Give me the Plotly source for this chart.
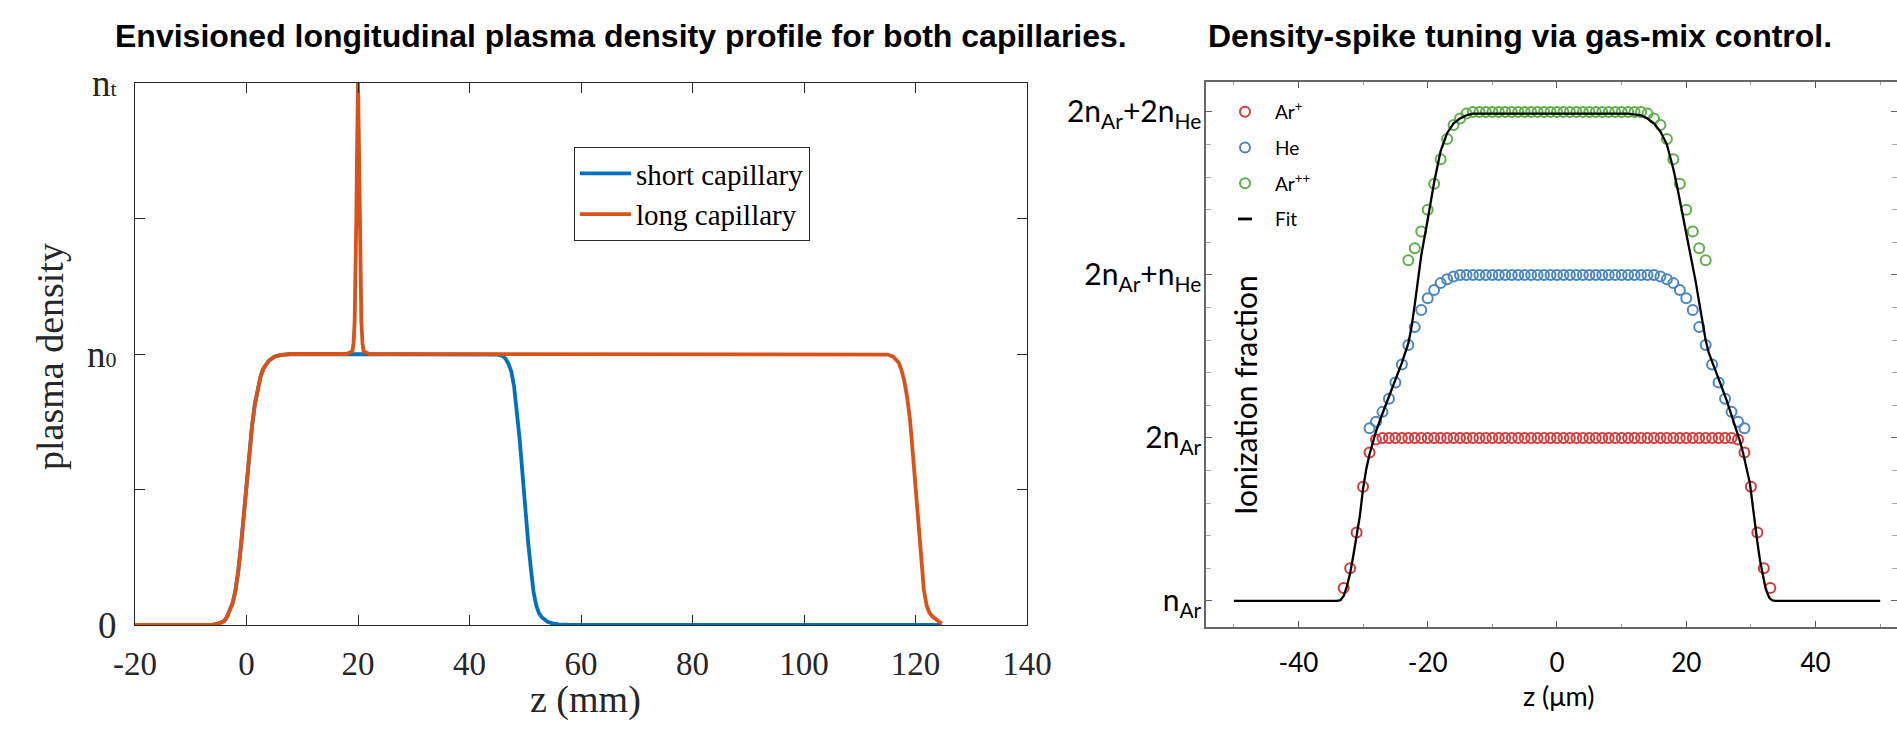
import plotly.graph_objects as go

# ---------------- Left panel: plasma density profiles ----------------
SHORT_Z = [-20, -8, -6, -5, -4, -3.5, -3, -2.5, -2, -1.5, -1, -0.5, 0, 0.5, 1, 1.5, 2, 2.5, 3, 3.5, 4, 5, 6, 8,
           44, 45, 46, 46.5, 47, 47.5, 48, 48.5, 49, 49.5, 50, 50.5, 51, 51.5, 52, 52.5, 53, 54, 55, 56, 58, 124.7]
SHORT_N = [0, 0, 0.001, 0.005, 0.015, 0.03, 0.052, 0.08, 0.125, 0.195, 0.29, 0.40, 0.51, 0.635, 0.735, 0.815, 0.875,
           0.915, 0.945, 0.962, 0.975, 0.99, 0.996, 1.0,
           1.0, 0.998, 0.992, 0.982, 0.963, 0.935, 0.88, 0.79, 0.685, 0.56, 0.41, 0.31, 0.21, 0.12, 0.07, 0.042,
           0.028, 0.012, 0.005, 0.002, 0.0, 0.0]

LONG_Z = [-20, -8, -6, -5, -4, -3.5, -3, -2.5, -2, -1.5, -1, -0.5, 0, 0.5, 1, 1.5, 2, 2.5, 3, 3.5, 4, 5, 6, 8,
          18, 19.0, 19.2, 19.4, 19.55, 19.7, 19.8, 19.9, 20, 20.1, 20.2, 20.3, 20.45, 20.6, 20.8, 21.0, 22,
          114, 115, 116, 116.5, 117, 117.5, 118, 118.5, 119, 119.5, 120, 120.5, 121, 121.5, 122, 122.5, 123,
          123.5, 124, 124.7]
LONG_N = [0, 0, 0.001, 0.005, 0.015, 0.03, 0.052, 0.08, 0.125, 0.195, 0.29, 0.40, 0.51, 0.635, 0.735, 0.815, 0.875,
          0.915, 0.945, 0.962, 0.975, 0.99, 0.996, 1.0,
          1.0, 1.01, 1.04, 1.12, 1.25, 1.5, 1.7, 1.87, 2.0, 1.87, 1.7, 1.5, 1.25, 1.12, 1.04, 1.01, 1.0,
          1.0, 0.998, 0.99, 0.98, 0.968, 0.94, 0.9, 0.84, 0.76, 0.64, 0.51, 0.37, 0.23, 0.13, 0.072, 0.045,
          0.032, 0.023, 0.014, 0.005]

LEFT_X_TICKS = [-20, 0, 20, 40, 60, 80, 100, 120, 140]
LEFT_X_LABELS = ["-20", "0", "20", "40", "60", "80", "100", "120", "140"]
LEFT_Y_TICKS = [0, 0.5, 1, 1.5, 2]
LEFT_Y_LABELS = ["0", "", "n<span style='font-size:22px'>0</span>", "",
                 "n<span style='font-size:22px'>t</span>"]

# ---------------- Right panel: ionization profiles ----------------
AR1_Z = [-33, -32, -31, -30, -29, -28, -27, -26, -25, -24, -23, -22, -21, -20, -19, -18, -17, -16, -15, -14,
         -13, -12, -11, -10, -9, -8, -7, -6, -5, -4, -3, -2, -1, 0, 1, 2, 3, 4, 5, 6, 7, 8, 9, 10, 11, 12, 13,
         14, 15, 16, 17, 18, 19, 20, 21, 22, 23, 24, 25, 26, 27, 28, 29, 30, 31, 32, 33]
AR1_V = [1.08, 1.20, 1.42, 1.70, 1.91, 1.99,
         2.0, 2.0, 2.0, 2.0, 2.0, 2.0, 2.0, 2.0, 2.0, 2.0, 2.0, 2.0, 2.0, 2.0, 2.0, 2.0, 2.0, 2.0, 2.0, 2.0,
         2.0, 2.0, 2.0, 2.0, 2.0, 2.0, 2.0, 2.0, 2.0, 2.0, 2.0, 2.0, 2.0, 2.0, 2.0, 2.0, 2.0, 2.0, 2.0, 2.0,
         2.0, 2.0, 2.0, 2.0, 2.0, 2.0, 2.0, 2.0, 2.0, 2.0, 2.0, 2.0, 2.0, 2.0, 2.0,
         1.99, 1.91, 1.70, 1.42, 1.20, 1.08]

HE_Z = [-29, -28, -27, -26, -25, -24, -23, -22, -21, -20, -19, -18, -17, -16, -15, -14, -13, -12, -11, -10,
        -9, -8, -7, -6, -5, -4, -3, -2, -1, 0, 1, 2, 3, 4, 5, 6, 7, 8, 9, 10, 11, 12, 13, 14, 15, 16, 17, 18,
        19, 20, 21, 22, 23, 24, 25, 26, 27, 28, 29]
HE_V = [2.06, 2.10, 2.16, 2.24, 2.34, 2.45, 2.57, 2.68, 2.785, 2.857, 2.908, 2.95, 2.974, 2.99,
        3.0, 3.0, 3.0, 3.0, 3.0, 3.0, 3.0, 3.0, 3.0, 3.0, 3.0, 3.0, 3.0, 3.0, 3.0, 3.0, 3.0, 3.0, 3.0, 3.0,
        3.0, 3.0, 3.0, 3.0, 3.0, 3.0, 3.0, 3.0, 3.0, 3.0, 3.0,
        2.99, 2.974, 2.95, 2.908, 2.857, 2.785, 2.68, 2.57, 2.45, 2.34, 2.24, 2.16, 2.10, 2.06]

AR2_Z = [-23, -22, -21, -20, -19, -18, -17, -16, -15, -14, -13, -12, -11, -10, -9, -8, -7, -6, -5, -4, -3,
         -2, -1, 0, 1, 2, 3, 4, 5, 6, 7, 8, 9, 10, 11, 12, 13, 14, 15, 16, 17, 18, 19, 20, 21, 22, 23]
AR2_V = [3.09, 3.164, 3.266, 3.40, 3.56, 3.71, 3.834, 3.92, 3.96, 3.99,
         4.0, 4.0, 4.0, 4.0, 4.0, 4.0, 4.0, 4.0, 4.0, 4.0, 4.0, 4.0, 4.0, 4.0, 4.0, 4.0, 4.0, 4.0, 4.0, 4.0,
         4.0, 4.0, 4.0, 4.0, 4.0, 4.0, 4.0,
         3.99, 3.96, 3.92, 3.834, 3.71, 3.56, 3.40, 3.266, 3.164, 3.09]

FIT_Z = [-50, -34, -33.5, -33, -32.5, -32, -31.5, -31, -30.5, -30, -29.5, -29, -28.5, -28, -27, -26, -25, -24,
         -23, -22.5, -22, -21.5, -21, -20, -19, -18, -17, -16, -15, -14, -13, -11, 11, 13, 14, 15, 16, 17,
         17.5, 18, 18.5, 19, 19.5, 20, 20.5, 21, 21.5, 22, 22.5, 23, 23.5, 24, 24.7, 25.5, 26.25, 27, 27.8,
         28.3, 28.8, 29.3, 29.85, 30.2, 30.6, 31, 31.4, 31.8, 32.2, 32.6, 32.9, 33.3, 33.7, 50]
FIT_V = [1.0, 1.0, 1.005, 1.03, 1.09, 1.17, 1.28, 1.39, 1.52, 1.69, 1.81, 1.90, 1.97, 2.04, 2.15, 2.25, 2.36,
         2.46, 2.58, 2.68, 2.82, 2.98, 3.12, 3.34, 3.57, 3.76, 3.87, 3.93, 3.96, 3.98, 3.99, 3.99, 3.99, 3.98,
         3.96, 3.93, 3.88, 3.80, 3.73, 3.65, 3.56, 3.46, 3.36, 3.26, 3.17, 3.07, 2.95, 2.83, 2.72, 2.60, 2.52,
         2.47, 2.40, 2.31, 2.23, 2.14, 2.05, 1.98, 1.906, 1.82, 1.72, 1.61, 1.477, 1.36, 1.25, 1.16, 1.09,
         1.04, 1.017, 1.004, 1.0, 1.0]

RIGHT_X_TICKS = [-40, -20, 0, 20, 40]
RIGHT_X_LABELS = ["-40", "-20", "0", "20", "40"]
RIGHT_Y_TICKS = [1, 2, 3, 4]
RIGHT_Y_LABELS = ["n<sub>Ar</sub>", "2n<sub>Ar</sub>", "2n<sub>Ar</sub>+n<sub>He</sub>",
                  "2n<sub>Ar</sub>+2n<sub>He</sub>"]

SERIES = [("Ar<sup>+</sup>", AR1_Z, AR1_V, "#D23C3C"),
          ("He", HE_Z, HE_V, "#4A86C0"),
          ("Ar<sup>++</sup>", AR2_Z, AR2_V, "#5DAF4A")]

W, H = 1897, 730
SERIF = "Liberation Serif, Times New Roman, serif"
SANS = "Lato, Open Sans, sans-serif"
TITLE_FONT = dict(family="Liberation Sans, Arial, sans-serif", size=32, color="black")


def px_x(p):
    return p / W


def px_y(p):
    return (H - p) / H


fig = go.Figure()
fig.add_trace(go.Scatter(x=SHORT_Z, y=SHORT_N, mode="lines", name="short capillary",
                         line=dict(color="#0072BD", width=3.8), xaxis="x", yaxis="y", legend="legend"))
fig.add_trace(go.Scatter(x=LONG_Z, y=LONG_N, mode="lines", name="long capillary",
                         line=dict(color="#D95319", width=3.8), xaxis="x", yaxis="y", legend="legend"))

for name, zz, vv, col in SERIES:
    fig.add_trace(go.Scatter(x=zz, y=vv, mode="markers", name=name,
                             marker=dict(symbol="circle-open", size=10, color=col, line=dict(width=2, color=col)),
                             xaxis="x2", yaxis="y2", legend="legend2", legendgroup=name))
fig.add_trace(go.Scatter(x=FIT_Z, y=FIT_V, mode="lines", name="Fit", showlegend=False,
                         line=dict(color="black", width=2.3), xaxis="x2", yaxis="y2"))
fig.add_trace(go.Scatter(x=[None], y=[None], mode="markers", name="Fit",
                         marker=dict(symbol="line-ew-open", size=10, color="black",
                                     line=dict(width=2.8, color="black")),
                         xaxis="x2", yaxis="y2", legend="legend2", legendgroup="Fit"))

axcol = "#262626"
fig.update_layout(
    width=W, height=H, autosize=False,
    margin=dict(l=0, r=0, t=0, b=0, autoexpand=False),
    paper_bgcolor="white", plot_bgcolor="white",
    xaxis=dict(domain=[px_x(135), px_x(1027)], range=[-20, 140], tickmode="array", tickvals=LEFT_X_TICKS,
               ticktext=LEFT_X_LABELS, automargin=False,
               ticks="inside", ticklen=10, tickwidth=1, tickcolor=axcol, showline=True, linecolor=axcol,
               linewidth=1, mirror="ticks", showgrid=False, zeroline=False, anchor="y",
               tickfont=dict(family=SERIF, size=33, color=axcol), ticklabelstandoff=9),
    yaxis=dict(domain=[px_y(625), px_y(83)], range=[0, 2], tickmode="array", tickvals=LEFT_Y_TICKS,
               ticktext=LEFT_Y_LABELS, ticks="inside", ticklen=10, tickwidth=1, tickcolor=axcol,
               showline=True, linecolor=axcol, linewidth=1, mirror="ticks", showgrid=False, zeroline=False,
               anchor="x", automargin=False,
               tickfont=dict(family=SERIF, size=37, color=axcol), ticklabelstandoff=10),
    xaxis2=dict(domain=[px_x(1206), 1.0], range=[-54.3, 52.6], tickmode="array", tickvals=RIGHT_X_TICKS,
                ticktext=RIGHT_X_LABELS, automargin=False,
                ticks="inside", ticklen=6, tickwidth=1.2, tickcolor="#555555", showline=True,
                linecolor="#666666", linewidth=1.5, mirror="ticks", showgrid=False, zeroline=False, anchor="y2",
                minor=dict(tickmode="linear", tick0=0, dtick=10, ticks="inside", ticklen=3, tickcolor="#999999"),
                tickfont=dict(family=SANS, size=26, color="black"), ticklabelstandoff=12),
    yaxis2=dict(domain=[px_y(627), px_y(82)], range=[0.84, 4.184], tickmode="array", tickvals=RIGHT_Y_TICKS,
                ticktext=RIGHT_Y_LABELS, ticks="inside", ticklen=6, tickwidth=1.2, tickcolor="#666666",
                showline=True, linecolor="#666666", linewidth=1.5, mirror="ticks", showgrid=False,
                zeroline=False, anchor="x2", automargin=False,
                minor=dict(tickmode="linear", tick0=1, dtick=0.2, ticks="inside", ticklen=5, tickcolor="#aaaaaa"),
                tickfont=dict(family=SANS, size=30, color="black"), ticklabelstandoff=-3),
    legend=dict(x=px_x(574), y=px_y(147), xanchor="left", yanchor="top", bgcolor="white",
                bordercolor=axcol, borderwidth=1, font=dict(family=SERIF, size=29, color="black"),
                itemwidth=51, tracegroupgap=0),
    legend2=dict(x=px_x(1215), y=px_y(93), xanchor="left", yanchor="top", bgcolor="rgba(0,0,0,0)",
                 borderwidth=0, font=dict(family=SANS, size=19, color="black"), itemwidth=50,
                 traceorder="grouped", tracegroupgap=8),
    showlegend=True,
)

annotations = [
    dict(text="<b>Envisioned longitudinal plasma density profile for both capillaries.</b>",
         x=px_x(621), y=px_y(36), font=TITLE_FONT),
    dict(text="<b>Density-spike tuning via gas-mix control.</b>", x=px_x(1520), y=px_y(36), font=TITLE_FONT),
    dict(text="plasma density", x=px_x(50), y=px_y(357), textangle=-90,
         font=dict(family=SERIF, size=38, color=axcol)),
    dict(text="z (mm)", x=px_x(585), y=px_y(699), font=dict(family=SERIF, size=38, color=axcol)),
    dict(text="Ionization fraction", x=px_x(1245), y=px_y(395), textangle=-90,
         font=dict(family=SANS, size=30, color="black")),
    dict(text="z (\u03bcm)", x=px_x(1558), y=px_y(695), font=dict(family=SANS, size=27, color="black")),
]
for a in annotations:
    a.update(xref="paper", yref="paper", showarrow=False, xanchor="center", yanchor="middle")
fig.update_layout(annotations=annotations)

fig.write_html("out.html")
